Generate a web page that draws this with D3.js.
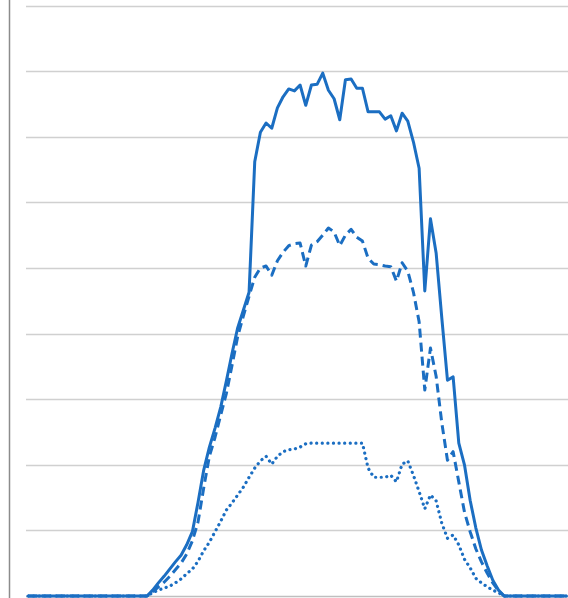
<!DOCTYPE html>
<html>
<head>
<meta charset="utf-8">
<script src="https://cdn.jsdelivr.net/npm/d3@7"></script>
<style>
  html, body { margin: 0; padding: 0; background: #fff; }
  svg { display: block; }
</style>
</head>
<body>
<svg id="chart"></svg>
<script>
// 15 minute slots over one day
const times = d3.range(96).map(i => `${String(Math.floor(i / 4)).padStart(2, "0")}:${String((i % 4) * 15).padStart(2, "0")}`);

// values (one gridline = 100)
const seriesSolid = [
    0, 0, 0, 0, 0, 0, 0, 0, 0, 0, 0, 0, 0, 0, 0, 0, 0, 0, 0, 0, 0,
    0, 9, 20, 30, 41, 52, 62, 78, 98, 143, 192, 227, 256, 288, 328, 370, 409, 436, 463,
    662, 707, 721, 713, 744, 761, 773, 770, 779, 748, 779, 780, 797, 771, 758, 726,
    787, 788, 774, 774, 738, 738, 738, 727, 732, 709, 736, 724, 692, 652,
    465, 575, 523, 424, 329, 334, 233, 200, 146, 104, 70, 46, 24, 9, 0,
    0, 0, 0, 0, 0, 0, 0, 0, 0, 0, 0
];
const seriesDashed = [
    0, 0, 0, 0, 0, 0, 0, 0, 0, 0, 0, 0, 0, 0, 0, 0, 0, 0, 0, 0, 0,
    0, 6, 14, 21, 30, 40, 50, 64, 84, 113, 165, 213, 242, 276, 309, 352, 396, 427, 457,
    486, 500, 503, 489, 511, 524, 534, 537, 538, 503, 535, 540, 550, 561, 555, 534,
    550, 559, 547, 541, 515, 506, 505, 503, 502, 480, 508, 495, 463, 418,
    314, 378, 335, 264, 207, 220, 174, 128, 98, 72, 52, 35, 20, 8, 0,
    0, 0, 0, 0, 0, 0, 0, 0, 0, 0, 0
];
const seriesDotted = [
    0, 0, 0, 0, 0, 0, 0, 0, 0, 0, 0, 0, 0, 0, 0, 0, 0, 0, 0, 0, 0,
    0, 5, 9, 12, 15, 20, 26, 34, 41, 53, 69, 82, 98, 114, 131, 142, 154, 166, 181,
    195, 206, 213, 201, 213, 220, 223, 224, 227, 232, 233, 233, 233, 233, 233, 233,
    233, 233, 233, 233, 195, 181, 181, 181, 184, 174, 201, 206, 184, 159,
    133, 154, 145, 111, 88, 93, 78, 56, 43, 27, 20, 14, 9, 5, 0,
    0, 0, 0, 0, 0, 0, 0, 0, 0, 0, 0
];
const yTicks = [0, 100, 200, 300, 400, 500, 600, 700, 800, 900];

const width = 568, height = 598;
const blue = "#1b6ec2";

const svg = d3.select("#chart")
    .attr("width", width)
    .attr("height", height);

const x = d3.scaleLinear()
    .domain([0, times.length - 1])
    .range([28, 566.5]);

const y = d3.scaleLinear()
    .domain([0, 900])
    .range([596, 5.6]);

// horizontal gridlines
svg.append("g")
    .selectAll("line")
    .data(yTicks)
    .enter().append("line")
    .attr("x1", 26)
    .attr("x2", width)
    .attr("y1", d => Math.round(y(d)) + 0.5)
    .attr("y2", d => Math.round(y(d)) + 0.5)
    .attr("stroke", d => d === 0 ? "#bfbfbf" : "#d0d0d0")
    .attr("stroke-width", 1.4);

// left frame line
svg.append("line")
    .attr("x1", 9.5).attr("x2", 9.5)
    .attr("y1", 0).attr("y2", height)
    .attr("stroke", "#8c8c8c")
    .attr("stroke-width", 1.5);

const line = d3.line()
    .x((d, i) => x(i))
    .y(d => y(d));

const series = [
    { name: "solid", values: seriesSolid, dash: null, width: 3, cap: "butt" },
    { name: "dashed", values: seriesDashed, dash: "9,5", width: 3, cap: "butt" },
    { name: "dotted", values: seriesDotted, dash: "0.1,5.5", width: 3.2, cap: "round" }
];

svg.selectAll(".series")
    .data(series)
    .enter().append("path")
    .attr("class", "series")
    .attr("d", d => line(d.values))
    .attr("fill", "none")
    .attr("stroke", blue)
    .attr("stroke-width", d => d.width)
    .attr("stroke-linejoin", "round")
    .attr("stroke-linecap", d => d.cap)
    .attr("stroke-dasharray", d => d.dash);
</script>
</body>
</html>
